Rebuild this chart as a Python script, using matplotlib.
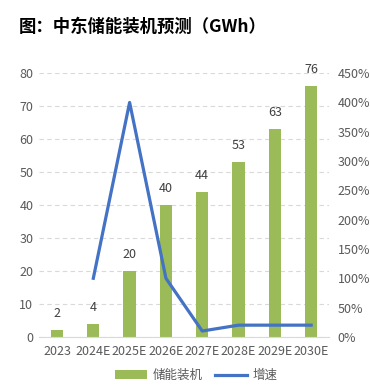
import matplotlib.pyplot as plt
from matplotlib.ticker import FuncFormatter

plt.rcParams['font.family'] = ['Noto Sans CJK SC', 'DejaVu Sans']

years = ['2023', '2024E', '2025E', '2026E', '2027E', '2028E', '2029E', '2030E']
capacity = [2, 4, 20, 40, 44, 53, 63, 76]
growth_years = ['2024E', '2025E', '2026E', '2027E', '2028E', '2029E', '2030E']
growth = [1.00, 4.00, 1.00, 0.10, 0.20, 0.20, 0.20]

fig = plt.figure(figsize=(3.7, 3.85), dpi=100)
ax = fig.add_axes([0.105, 0.125, 0.785, 0.685])
ax2 = ax.twinx()

x = list(range(len(years)))
bars = ax.bar(x, capacity, width=0.34, color='#9BBB59', label='储能装机', zorder=2)
for xi, v in zip(x, capacity):
    ax.text(xi, v + 3, str(v), ha='center', va='bottom', fontsize=9, color='#404040')

gx = [years.index(y) for y in growth_years]
line, = ax2.plot(gx, growth, color='#4472C4', linewidth=2.3, label='增速', zorder=3)

ax.set_ylim(0, 80)
ax.set_yticks(range(0, 81, 10))
ax.set_xlim(-0.5, len(years) - 0.5)
ax.set_xticks(x)
ax.set_xticklabels(years)
ax2.set_ylim(0, 4.5)
ax2.set_yticks([i * 0.5 for i in range(10)])
ax2.yaxis.set_major_formatter(FuncFormatter(lambda v, p: f'{v * 100:.0f}%'))

ax.grid(axis='y', linestyle=(0, (4, 3)), color='#D9D9D9', linewidth=0.8, zorder=0)
ax.set_axisbelow(True)
for a in (ax, ax2):
    for s in ['top', 'left', 'right', 'bottom']:
        a.spines[s].set_visible(False)
    a.tick_params(length=0, labelsize=9, colors='#595959', pad=4)
ax.spines['bottom'].set_visible(True)
ax.spines['bottom'].set_color('#D9D9D9')
ax.tick_params(axis='x', pad=6)
ax2.tick_params(axis='y', pad=6)

fig.text(0.05, 0.93, '图：中东储能装机预测（GWh）', fontsize=12.5, fontweight='bold',
         color='#000000', va='center', ha='left')

fig.legend(handles=[bars, line], labels=['储能装机', '增速'], loc='center',
           bbox_to_anchor=(0.53, 0.025), ncol=2, frameon=False, fontsize=9,
           labelcolor='#595959', handlelength=2.6, columnspacing=1.0, handletextpad=0.4)

fig.savefig('out.png', dpi=100)
